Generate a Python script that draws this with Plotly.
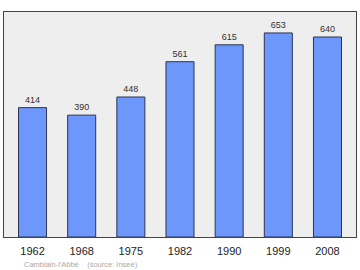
import plotly.graph_objects as go

years = ["1962", "1968", "1975", "1982", "1990", "1999", "2008"]
population = [414, 390, 448, 561, 615, 653, 640]
source_note = "Camblain-l'Abbé    (source: Insee)"

fig = go.Figure(go.Bar(
    x=years, y=population,
    text=[str(v) for v in population],
    textposition="outside",
    textfont=dict(family="Liberation Sans", size=9, color="#333333"),
    cliponaxis=False,
    marker=dict(color="#6e97fb", line=dict(color="#2a3550", width=1)),
))

fig.update_layout(
    width=360, height=270,
    margin=dict(l=4, r=4, t=12, b=33),
    paper_bgcolor="white", plot_bgcolor="#eeeeee",
    bargap=0.43,
    showlegend=False,
    uniformtext=dict(minsize=9, mode="show"),
    xaxis=dict(range=[-0.58, 6.58], showline=True, mirror=True, linecolor="#444444", linewidth=1,
               ticks="", ticklabelstandoff=4,
               tickfont=dict(family="Liberation Sans", size=11, color="#222222"),
               showgrid=False),
    yaxis=dict(range=[0, 720], showline=True, mirror=True, linecolor="#444444", linewidth=1,
               showticklabels=False, ticks="", showgrid=False, zeroline=False),
    annotations=[dict(text=source_note, xref="paper", yref="paper", x=0.052, y=-0.095,
                      xanchor="left", yanchor="top", showarrow=False,
                      font=dict(family="Liberation Sans", size=7.5, color="#aaaaaa"))],
)

fig.write_html("out.html")
